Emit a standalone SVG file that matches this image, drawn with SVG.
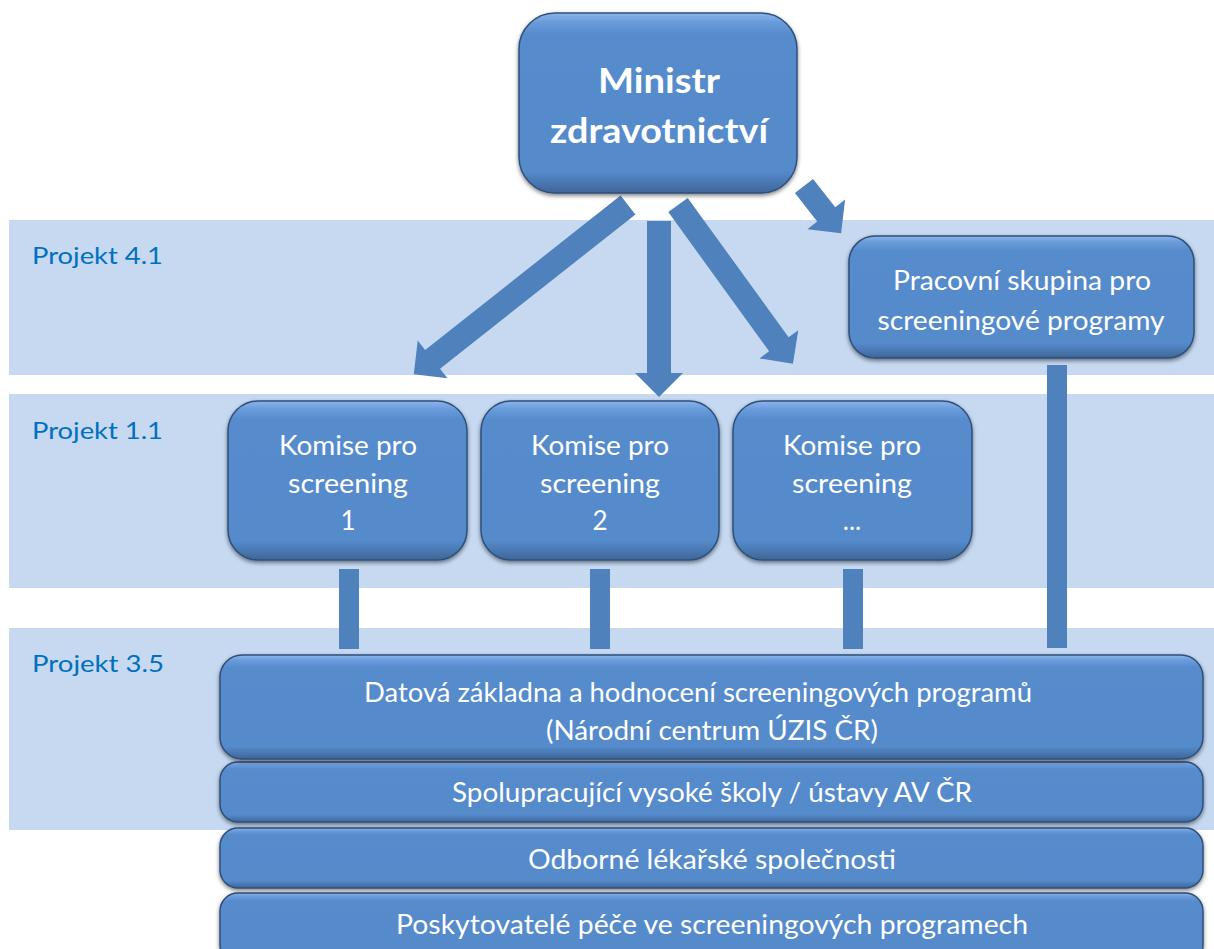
<svg xmlns="http://www.w3.org/2000/svg" width="1214" height="949" viewBox="0 0 1214 949">
<defs>
<linearGradient id="boxg" x1="0" y1="0" x2="0" y2="1">
<stop offset="0" stop-color="#8CB5EA"/>
<stop offset="0.05" stop-color="#6A9CDB"/>
<stop offset="0.12" stop-color="#568BCC"/>
<stop offset="0.88" stop-color="#548ACB"/>
<stop offset="1" stop-color="#3F6698"/>
</linearGradient>
<filter id="sh" x="-10%" y="-10%" width="120%" height="130%">
<feGaussianBlur in="SourceAlpha" stdDeviation="2"/>
<feOffset dx="0" dy="2" result="b"/>
<feComponentTransfer><feFuncA type="linear" slope="0.5"/></feComponentTransfer>
<feMerge><feMergeNode/><feMergeNode in="SourceGraphic"/></feMerge>
</filter>
<path id="arrowhead" d="M0,0"/>
</defs>
<style>
.band{fill:#C6D9F1}
.box{fill:url(#boxg);stroke:#2F4F7A;stroke-width:1.5;filter:url(#sh)}
.conn{fill:#4F81BD}
.lbl{font-family:Lato,"Open Sans","Liberation Sans",sans-serif;font-size:24px;fill:#0070C0}
.t{font-family:Lato,"Open Sans","Liberation Sans",sans-serif;font-size:26px;fill:#FFFFFF;text-anchor:middle}
.tb{font-family:Lato,"Open Sans","Liberation Sans",sans-serif;font-size:34px;font-weight:bold;fill:#FFFFFF;text-anchor:middle}
</style>
<rect width="1214" height="949" fill="#FFFFFF"/>
<g id="bands">
<rect class="band" x="9" y="220" width="1205" height="155"/>
<rect class="band" x="9" y="394" width="1205" height="194"/>
<rect class="band" x="9" y="628" width="1205" height="202"/>
<text class="lbl" x="32" y="264" textLength="131" lengthAdjust="spacingAndGlyphs">Projekt 4.1</text>
<text class="lbl" x="32" y="439" textLength="131" lengthAdjust="spacingAndGlyphs">Projekt 1.1</text>
<text class="lbl" x="32" y="672" textLength="132" lengthAdjust="spacingAndGlyphs">Projekt 3.5</text>
</g>
<g id="connectors">
<rect class="conn" x="339" y="569" width="20" height="80"/>
<rect class="conn" x="590" y="569" width="20" height="80"/>
<rect class="conn" x="843" y="569" width="20" height="80"/>
<rect class="conn" x="1047" y="365" width="20" height="283"/>
<polygon class="conn" transform="translate(628,205) rotate(141.7)" points="0,-12 249,-12 249,-24 273,0 249,24 249,12 0,12"/>
<polygon class="conn" transform="translate(659,221) rotate(90)" points="0,-12 152,-12 152,-24 176,0 152,24 152,12 0,12"/>
<polygon class="conn" transform="translate(678,205) rotate(54.1)" points="0,-12 172,-12 172,-24 196,0 172,24 172,12 0,12"/>
<polygon class="conn" transform="translate(804,186) rotate(51.8)" points="0,-11.5 36,-11.5 36,-24 60,0 36,24 36,11.5 0,11.5"/>
</g>
<g id="minister">
<rect class="box" x="519" y="13" width="278" height="180" rx="36"/>
<text class="tb" x="659" y="93" textLength="122" lengthAdjust="spacingAndGlyphs">Ministr</text>
<text class="tb" x="659" y="143" textLength="218" lengthAdjust="spacingAndGlyphs">zdravotnictví</text>
</g>
<g id="pracovni">
<rect class="box" x="849" y="236" width="345" height="122" rx="26"/>
<text class="t" x="1022" y="290" textLength="258" lengthAdjust="spacingAndGlyphs">Pracovní skupina pro</text>
<text class="t" x="1021" y="330" textLength="287" lengthAdjust="spacingAndGlyphs">screeningové programy</text>
</g>
<g id="komise1">
<rect class="box" x="228" y="401" width="239" height="159" rx="30"/>
<text class="t" x="348" y="455" textLength="138" lengthAdjust="spacingAndGlyphs">Komise pro</text>
<text class="t" x="348" y="493" textLength="120" lengthAdjust="spacingAndGlyphs">screening</text>
<text class="t" x="348" y="530">1</text>
</g>
<g id="komise2">
<rect class="box" x="481" y="401" width="238" height="159" rx="30"/>
<text class="t" x="600" y="455" textLength="138" lengthAdjust="spacingAndGlyphs">Komise pro</text>
<text class="t" x="600" y="493" textLength="120" lengthAdjust="spacingAndGlyphs">screening</text>
<text class="t" x="600" y="530">2</text>
</g>
<g id="komise3">
<rect class="box" x="733" y="401" width="239" height="159" rx="30"/>
<text class="t" x="852" y="455" textLength="138" lengthAdjust="spacingAndGlyphs">Komise pro</text>
<text class="t" x="852" y="493" textLength="120" lengthAdjust="spacingAndGlyphs">screening</text>
<text class="t" x="852" y="530">...</text>
</g>
<g id="poskytovatele">
<rect class="box" x="220" y="893" width="983" height="70" rx="18"/>
<text class="t" x="712" y="934" textLength="632" lengthAdjust="spacingAndGlyphs">Poskytovatelé péče ve screeningových programech</text>
</g>
<g id="odborne">
<rect class="box" x="220" y="828" width="983" height="60" rx="18"/>
<text class="t" x="712" y="869" textLength="368" lengthAdjust="spacingAndGlyphs">Odborné lékařské společnosti</text>
</g>
<g id="spolupracujici">
<rect class="box" x="220" y="762" width="983" height="60" rx="18"/>
<text class="t" x="712" y="802" textLength="520" lengthAdjust="spacingAndGlyphs">Spolupracující vysoké školy / ústavy AV ČR</text>
</g>
<g id="datova">
<rect class="box" x="220" y="655" width="983" height="104" rx="22"/>
<text class="t" x="698" y="702" textLength="668" lengthAdjust="spacingAndGlyphs">Datová základna a hodnocení screeningových programů</text>
<text class="t" x="712" y="740" textLength="332" lengthAdjust="spacingAndGlyphs">(Národní centrum ÚZIS ČR)</text>
</g>
</svg>
